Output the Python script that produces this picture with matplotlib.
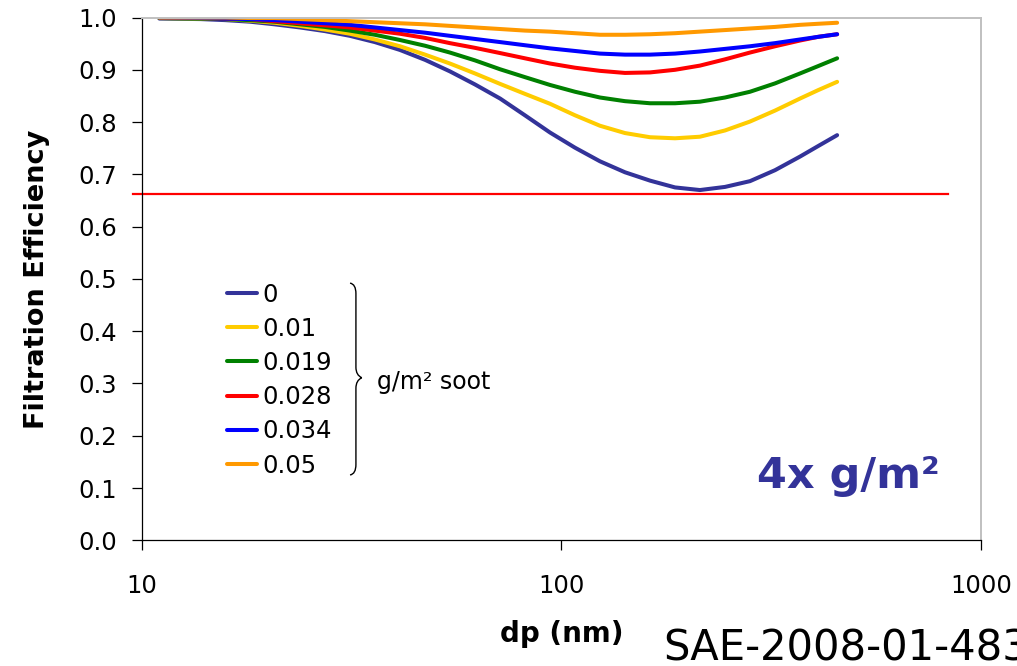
import matplotlib
matplotlib.use("Agg")
import matplotlib.pyplot as plt
from matplotlib.path import Path
from matplotlib.patches import PathPatch
from matplotlib.ticker import FixedLocator, FixedFormatter, NullLocator, FormatStrFormatter

plt.rcParams['font.family'] = ['DejaVu Sans']

# particle diameter (nm)
dp = [11, 13.8, 15.8, 18.1, 20.7, 23.8, 27.3, 31.3, 35.9, 41.2, 47.3, 54.2, 62.2, 71.4,
      81.8, 93.9, 107.7, 123.5, 141.7, 162.6, 186.5, 213.8, 245.4, 281.4, 322.9, 370.3,
      408.8, 454]

# filtration efficiency for each soot load (g/m2)
eff_0 = [0.998, 0.997, 0.995, 0.992, 0.987, 0.981, 0.974, 0.965, 0.953, 0.938, 0.919,
         0.897, 0.872, 0.845, 0.813, 0.780, 0.751, 0.725, 0.704, 0.688, 0.675, 0.670,
         0.676, 0.687, 0.708, 0.734, 0.754, 0.775]
eff_001 = [0.999, 0.998, 0.997, 0.994, 0.990, 0.984, 0.977, 0.969, 0.958, 0.945, 0.929,
           0.912, 0.893, 0.873, 0.854, 0.835, 0.813, 0.793, 0.779, 0.771, 0.769, 0.772,
           0.784, 0.801, 0.822, 0.845, 0.861, 0.877]
eff_0019 = [0.999, 0.998, 0.997, 0.995, 0.992, 0.987, 0.982, 0.975, 0.967, 0.957, 0.946,
            0.933, 0.918, 0.901, 0.886, 0.871, 0.858, 0.847, 0.840, 0.836, 0.836, 0.839,
            0.847, 0.858, 0.874, 0.893, 0.907, 0.922]
eff_0028 = [1.000, 0.999, 0.998, 0.997, 0.993, 0.989, 0.985, 0.981, 0.975, 0.969, 0.961,
            0.951, 0.942, 0.932, 0.922, 0.912, 0.904, 0.898, 0.894, 0.895, 0.900, 0.908,
            0.920, 0.933, 0.945, 0.956, 0.963, 0.968]
eff_0034 = [1.000, 0.999, 0.998, 0.997, 0.995, 0.992, 0.989, 0.986, 0.981, 0.976, 0.971,
            0.965, 0.959, 0.953, 0.947, 0.941, 0.936, 0.931, 0.929, 0.929, 0.931, 0.935,
            0.940, 0.945, 0.951, 0.958, 0.963, 0.968]
eff_005 = [1.000, 1.000, 1.000, 0.999, 0.999, 0.997, 0.995, 0.993, 0.991, 0.989, 0.987,
           0.984, 0.981, 0.978, 0.975, 0.973, 0.970, 0.967, 0.967, 0.968, 0.970, 0.973,
           0.976, 0.979, 0.982, 0.986, 0.988, 0.990]

loads = ["0", "0.01", "0.019", "0.028", "0.034", "0.05"]
series = [eff_0, eff_001, eff_0019, eff_0028, eff_0034, eff_005]
colors = ["#333399", "#FFCC00", "#008000", "#FF0000", "#0000FF", "#FF9900"]

# target efficiency line
limit_dp = [9.5, 834]
limit_eff = [0.662, 0.662]

fig = plt.figure(figsize=(10.17, 6.66), dpi=100)
ax = fig.add_axes([0.1396, 0.1887, 0.825, 0.7850])

lines = []
for y, c, lab in zip(series, colors, loads):
    ln, = ax.plot(dp, y, color=c, lw=2.9, solid_capstyle='round',
                  solid_joinstyle='round', label=lab)
    lines.append(ln)

ax.plot(limit_dp, limit_eff, color="#FF0000", lw=1.6, clip_on=False)

ax.set_xscale('log')
ax.set_xlim(10, 1000)
ax.set_ylim(0, 1.0)
ax.xaxis.set_major_locator(FixedLocator([10, 100, 1000]))
ax.xaxis.set_major_formatter(FixedFormatter(["10", "100", "1000"]))
ax.xaxis.set_minor_locator(NullLocator())
ax.set_yticks([i / 10 for i in range(11)])
ax.yaxis.set_major_formatter(FormatStrFormatter('%.1f'))

ax.tick_params(axis='both', direction='out', length=7, width=0.9, color='black',
               labelsize=17.5, colors='black')
ax.tick_params(axis='x', pad=17)
ax.tick_params(axis='y', pad=11)

for s in ['left', 'bottom']:
    ax.spines[s].set_color('black')
    ax.spines[s].set_linewidth(0.9)
for s in ['top', 'right']:
    ax.spines[s].set_color('#c0c0c0')
    ax.spines[s].set_linewidth(1.4)

ax.set_ylabel("Filtration Efficiency", fontsize=19.5, fontweight='bold')
ax.yaxis.set_label_coords(-0.11, 0.5)
ax.set_xlabel("dp (nm)", fontsize=20, fontweight='bold')
ax.xaxis.set_label_coords(0.5, -0.152)

leg = ax.legend(handles=lines, loc='upper left', bbox_to_anchor=(0.101, 0.493),
                frameon=False, fontsize=17.5, handlelength=1.25, handletextpad=0.2,
                labelspacing=0.42, borderpad=0, borderaxespad=0)

# curly brace grouping the legend entries
xl, xm, xt = 0.248, 0.255, 0.262
yt, ymid, yb = 0.492, 0.311, 0.125
verts = [(xl, yt), (xm, yt - 0.002), (xm, yt - 0.02),
         (xm, ymid + 0.02),
         (xm, ymid + 0.005), (xt, ymid), (xt, ymid),
         (xm, ymid - 0.005), (xm, ymid - 0.02),
         (xm, yb + 0.02),
         (xm, yb + 0.002), (xl, yb), (xl, yb)]
codes = [Path.MOVETO, Path.CURVE3, Path.CURVE3,
         Path.LINETO,
         Path.CURVE3, Path.CURVE3, Path.MOVETO,
         Path.CURVE3, Path.CURVE3,
         Path.LINETO,
         Path.CURVE3, Path.CURVE3, Path.MOVETO]
brace = PathPatch(Path(verts, codes), transform=ax.transAxes, fill=False,
                  edgecolor='black', lw=1.0, clip_on=False)
ax.add_patch(brace)

ax.text(0.280, 0.302, "g/m² soot", transform=ax.transAxes, fontsize=17,
        ha='left', va='center')

ax.text(0.951, 0.100, "4x g/m²", transform=ax.transAxes, fontsize=31,
        fontweight='bold', color="#333399", ha='right', va='baseline')

fig.text(0.652, 0.009, "SAE-2008-01-483", fontsize=30, ha='left', va='baseline')

fig.savefig("out.png", dpi=100)
